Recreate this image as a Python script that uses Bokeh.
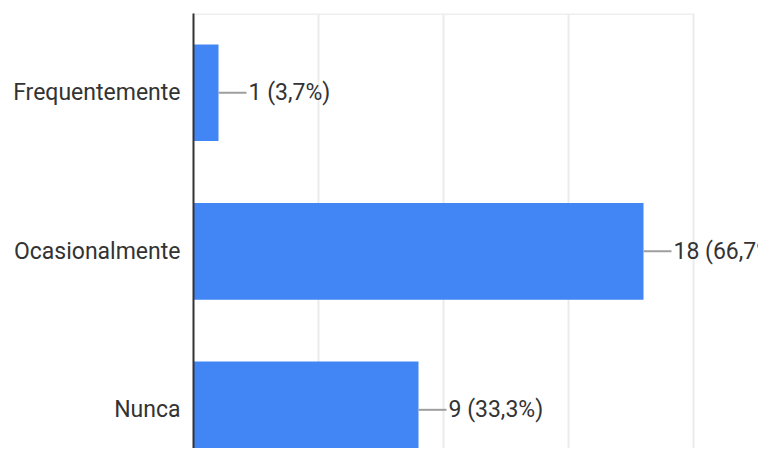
from bokeh.plotting import figure
from bokeh.models import Range1d, FixedTicker, ColumnDataSource
from bokeh.core.properties import value
from bokeh.embed import file_html
from bokeh.resources import INLINE

categories = ["Frequentemente", "Ocasionalmente", "Nunca"]
counts = [1, 18, 9]
labels = ["1 (3,7%)", "18 (66,7%)", "9 (33,3%)"]
grid_ticks = [5, 10, 15, 20]

positions = list(range(len(categories)))
leader = 1.12  # leader line length in data units

src = ColumnDataSource(dict(
    y=positions,
    right=counts,
    lead_end=[c + leader for c in counts],
    label=labels,
))

p = figure(width=758, height=448, output_backend="svg", toolbar_location=None,
           x_range=Range1d(0, 22.6), y_range=Range1d(2.244, -0.5),
           min_border_top=13, min_border_bottom=0, min_border_right=0,
           min_border_left=193)
p.outline_line_color = None
p.background_fill_color = "white"

p.hbar(y="y", left=0, right="right", height=0.61, source=src,
       fill_color="#4285f4", line_color=None)

p.segment(x0="right", y0="y", x1="lead_end", y1="y", source=src,
          line_color="#9e9e9e", line_width=2)
p.text(x="lead_end", y="y", text="label", source=src, x_offset=2,
       text_baseline="middle", text_align="left",
       text_font=value("Roboto"), text_font_size="23px", text_color="#333333")

# top border of the chart area
p.segment(x0=[0], y0=[-0.5], x1=[grid_ticks[-1]], y1=[-0.5],
          line_color="#eeeeee", line_width=3)

p.xaxis.visible = False
p.xgrid.ticker = FixedTicker(ticks=grid_ticks)
p.xgrid.grid_line_color = "#ebebeb"
p.xgrid.grid_line_width = 2
p.ygrid.grid_line_color = None

ya = p.yaxis[0]
ya.ticker = FixedTicker(ticks=positions)
ya.major_label_overrides = {i: c for i, c in zip(positions, categories)}
ya.major_tick_line_color = None
ya.minor_tick_line_color = None
ya.axis_line_color = "#333333"
ya.axis_line_width = 2
ya.major_label_text_font = "Roboto"
ya.major_label_text_font_size = "23px"
ya.major_label_text_color = "#333333"
ya.major_label_standoff = 7

open("out.html", "w").write(file_html(p, INLINE))
